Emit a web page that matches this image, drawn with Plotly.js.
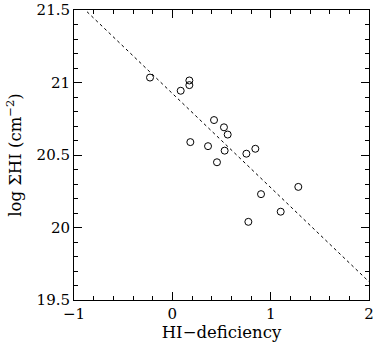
<!DOCTYPE html>
<html><head><meta charset="utf-8">
<script src="https://cdn.plot.ly/plotly-3.0.1.min.js"></script>
<style>html,body{margin:0;padding:0;background:#fff}</style>
</head><body><div id="chart" style="width:374px;height:346px"></div>
<script>
const hiDeficiency = [-0.227, 0.085, 0.173, 0.173, 0.183, 0.363, 0.424, 0.454, 0.525, 0.532, 0.563, 0.753, 0.844, 0.773, 0.902, 1.102, 1.281];
const logSigmaHI   = [21.034, 20.943, 21.014, 20.982, 20.589, 20.561, 20.741, 20.45, 20.691, 20.53, 20.641, 20.509, 20.543, 20.039, 20.23, 20.109, 20.28];
const fitX = [-1, 2];
const fitY = [21.574, 19.626];

const tickFont = {family: 'DejaVu Serif, Liberation Serif, serif', size: 15, color: '#000'};
const titleFont = {family: 'DejaVu Serif, Liberation Serif, serif', size: 16.5, color: '#000'};
const data = [
  {x: fitX, y: fitY, mode: 'lines', type: 'scatter', line: {color: '#000', width: 1, dash: 'dot'}, hoverinfo: 'skip'},
  {x: hiDeficiency, y: logSigmaHI, mode: 'markers', type: 'scatter',
   marker: {symbol: 'circle-open', size: 7, color: '#000', line: {width: 1, color: '#000'}}}
];
const axisCommon = {
  showgrid: false, zeroline: false, showline: true, linecolor: '#000', linewidth: 1,
  mirror: 'ticks', ticks: 'inside', ticklen: 8, tickwidth: 1, tickcolor: '#000',
  tickfont: tickFont, ticklabeloverflow: 'allow'
};
const layout = {
  width: 374, height: 346,
  margin: {l: 74, r: 5, t: 10, b: 46},
  showlegend: false,
  paper_bgcolor: '#fff', plot_bgcolor: '#fff',
  font: tickFont,
  xaxis: Object.assign({}, axisCommon, {
    range: [-1, 2], tickvals: [-1, 0, 1, 2], ticktext: ['\u22121', '0', '1', '2'],
    minor: {dtick: 0.2, tick0: 0, ticks: 'inside', ticklen: 4, tickcolor: '#000', showgrid: false},
    title: {text: 'HI\u2212deficiency', font: titleFont, standoff: 4}
  }),
  yaxis: Object.assign({}, axisCommon, {
    range: [19.5, 21.5], tickvals: [19.5, 20, 20.5, 21, 21.5], ticktext: ['19.5', '20', '20.5', '21', '21.5'],
    minor: {dtick: 0.1, tick0: 0, ticks: 'inside', ticklen: 4, tickcolor: '#000', showgrid: false},
    title: {text: 'log \u03a3HI (cm<sup>\u22122</sup>)', font: titleFont, standoff: 10}
  })
};
Plotly.newPlot('chart', data, layout, {staticPlot: true, displayModeBar: false});
</script></body></html>
